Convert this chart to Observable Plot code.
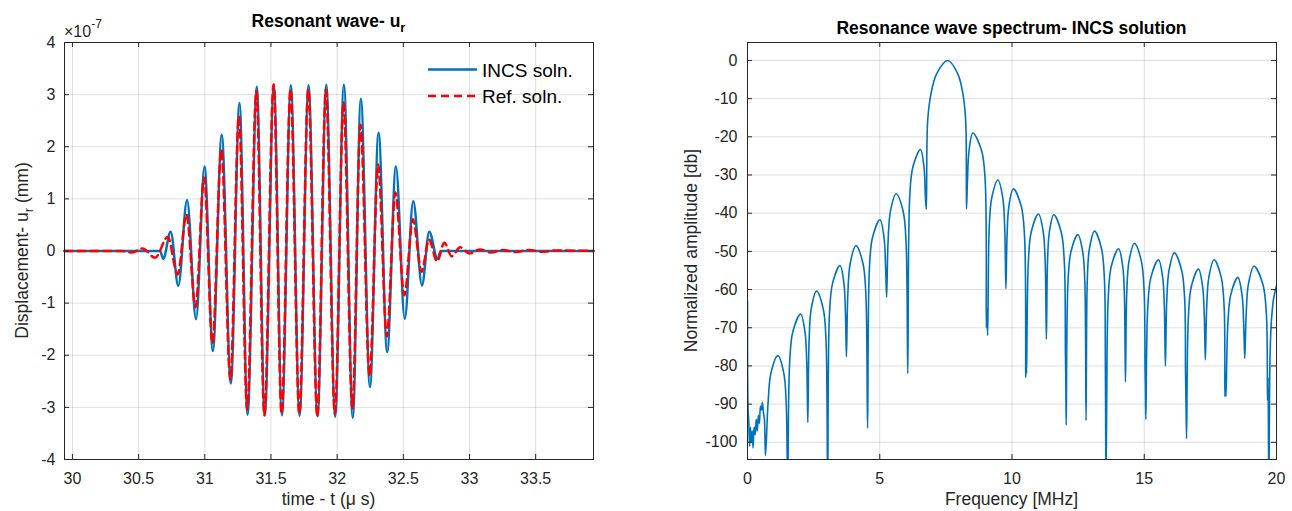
<!DOCTYPE html>
<html>
<head>
<meta charset="utf-8">
<script src="https://cdn.jsdelivr.net/npm/d3@7"></script>
<script src="https://cdn.jsdelivr.net/npm/@observablehq/plot@0.6"></script>
<style>
  html, body { margin: 0; padding: 0; background: #fff; }
  #wrap { position: relative; width: 1292px; height: 511px; overflow: hidden; font-family: "Liberation Sans", Arial, sans-serif; }
  #wrap > svg { position: absolute; top: 0; }
</style>
</head>
<body>
<div id="wrap"></div>
<script>
// ---------- Left panel: resonant wave u_r (units of 1e-7 mm) ----------
const incsTime = [29.94, 30.662, 30.686, 30.742, 30.800, 30.866, 30.934, 30.998, 31.061, 31.128, 31.197, 31.262, 31.323, 31.393, 31.453, 31.522, 31.583, 31.650, 31.716, 31.784, 31.852, 31.918, 31.985, 32.051, 32.118, 32.179, 32.248, 32.313, 32.378, 32.444, 32.511, 32.575, 32.641, 32.696, 32.758, 32.783, 33.937];
const incsDisp = [0, 0, -0.15, 0.37, -0.67, 0.98, -1.31, 1.62, -1.92, 2.23, -2.54, 2.84, -3.14, 3.15, -3.15, 3.18, -3.15, 3.18, -3.16, 3.18, -3.17, 3.19, -3.18, 3.19, -3.20, 2.92, -2.61, 2.27, -1.94, 1.62, -1.30, 0.96, -0.66, 0.37, -0.15, 0, 0];

const refTime = [29.94, 30.38, 30.45, 30.53, 30.625, 30.72, 30.795, 30.862, 30.93, 30.995, 31.058, 31.125, 31.193, 31.258, 31.32, 31.39, 31.45, 31.52, 31.58, 31.648, 31.714, 31.782, 31.85, 31.915, 31.983, 32.048, 32.115, 32.176, 32.245, 32.31, 32.375, 32.44, 32.508, 32.572, 32.638, 32.694, 32.755, 32.81, 32.865, 32.93, 33.0, 33.08, 33.16, 33.25, 33.35, 33.45, 33.55, 33.65, 33.937];
const refDisp = [0, 0, -0.03, 0.05, -0.13, 0.27, -0.45, 0.70, -1.08, 1.41, -1.77, 1.95, -2.47, 2.59, -3.04, 3.07, -3.15, 3.20, -3.12, 3.10, -3.12, 3.10, -3.18, 3.10, -3.12, 2.85, -3.02, 2.42, -2.40, 1.66, -1.64, 1.12, -0.85, 0.61, -0.40, 0.22, -0.20, 0.16, -0.10, 0.07, -0.05, 0.03, -0.03, 0.02, -0.02, 0.02, -0.015, 0.01, 0];

const timeTicks = [30, 30.5, 31, 31.5, 32, 32.5, 33, 33.5];
const dispTicks = [-4, -3, -2, -1, 0, 1, 2, 3, 4];

// ---------- Right panel: spectrum [frequency MHz, normalized dB] ----------
const spectrum = [
  [0,-63],[0.02,-91],[0.05,-95],[0.08,-101],[0.11,-96],[0.14,-100],[0.18,-97],[0.21,-101.5],[0.25,-96],[0.29,-98],[0.33,-94],[0.37,-97],[0.41,-93],[0.45,-95],[0.49,-90.5],[0.53,-91.5],[0.56,-89.5],[0.6,-92],[0.64,-94],[0.68,-103.5],
  [0.776,-89.9],[0.886,-81.9],[1.15,-77.3],[1.372,-81.9],[1.464,-89.9],[1.52,-112],
  [1.594,-79],[1.716,-71],[2.01,-66.4],[2.172,-71],[2.24,-79],[2.28,-94.8],
  [2.33,-73],[2.41,-65],[2.61,-60.4],[2.862,-65],[2.967,-73],[3.03,-112],
  [3.10,-66.3],[3.218,-58.3],[3.50,-53.7],[3.644,-58.3],[3.704,-66.3],[3.74,-77.6],
  [3.794,-61.1],[3.884,-53.1],[4.10,-48.5],[4.364,-53.1],[4.474,-61.1],[4.54,-96.3],
  [4.61,-54.3],[4.728,-46.3],[5.01,-41.7],[5.16,-46.3],[5.222,-54.3],[5.26,-62],
  [5.314,-47.5],[5.404,-39.5],[5.62,-34.9],[5.884,-39.5],[5.994,-47.5],[6.06,-82],
  [6.132,-35.9],[6.252,-27.9],[6.54,-23.3],[6.672,-27.9],[6.727,-35.9],[6.76,-39],
  [6.81,-16],[6.93,-9],[7.15,-3.5],[7.57,0],[7.95,-3.5],[8.15,-9],[8.25,-16],[8.28,-38.9],
  [8.316,-31.6],[8.376,-23.6],[8.52,-19],[8.85,-23.6],[8.987,-31.6],[9.03,-70],[9.05,-65],[9.08,-72],
  [9.139,-43.9],[9.236,-35.9],[9.47,-31.3],[9.65,-35.9],[9.725,-43.9],[9.77,-59.8],
  [9.812,-46.2],[9.882,-38.2],[10.05,-33.6],[10.35,-38.2],[10.475,-46.2],[10.52,-83],[10.535,-74],[10.55,-82],
  [10.618,-52.8],[10.73,-44.8],[11.0,-40.2],[11.18,-44.8],[11.255,-52.8],[11.3,-73],
  [11.342,-53],[11.412,-45],[11.58,-40.4],[11.862,-45],[11.98,-53],[12.02,-77],[12.035,-84],[12.05,-95.5],
  [12.116,-58.2],[12.226,-50.2],[12.49,-45.6],[12.676,-50.2],[12.754,-58.2],[12.8,-94.3],
  [12.848,-57.3],[12.928,-49.3],[13.12,-44.7],[13.384,-49.3],[13.494,-57.3],[13.53,-80],[13.555,-112],[13.58,-90],
  [13.64,-61.9],[13.754,-53.9],[14.03,-49.3],[14.186,-53.9],[14.251,-61.9],[14.29,-84.2],
  [14.341,-60.5],[14.426,-52.5],[14.63,-47.9],[14.888,-52.5],[14.996,-60.5],[15.03,-80],[15.045,-86],[15.06,-94],
  [15.132,-64.8],[15.252,-56.8],[15.54,-52.2],[15.696,-56.8],[15.761,-64.8],[15.8,-80],
  [15.851,-63],[15.936,-55],[16.14,-50.4],[16.416,-55],[16.531,-63],[16.56,-82],[16.58,-90],[16.6,-99],
  [16.668,-67.2],[16.78,-59.2],[17.05,-54.6],[17.206,-59.2],[17.271,-67.2],[17.31,-78.4],
  [17.36,-64.8],[17.442,-56.8],[17.64,-52.2],[17.91,-56.8],[18.022,-64.8],[18.05,-88],[18.07,-82],[18.09,-88],
  [18.158,-69.4],[18.27,-61.4],[18.54,-56.8],[18.696,-61.4],[18.761,-69.4],[18.8,-78],
  [18.853,-66.5],[18.94,-58.5],[19.15,-53.9],[19.48,-58.5],[19.618,-66.5],[19.66,-89],[19.68,-83],[19.71,-112],
  [19.76,-76],[19.82,-67],[19.9,-62],[20,-59]
];
const freqTicks = [0, 5, 10, 15, 20];
const dbTicks = [0, -10, -20, -30, -40, -50, -60, -70, -80, -90, -100];

// ---------- text ----------
const leftTitle = "Resonant wave- u";
const rightTitle = "Resonance wave spectrum- INCS solution";
const leftXLabel = "time - t (\u03BC s)";
const rightXLabel = "Frequency [MHz]";
const leftYLabel = "Displacement- u";
const rightYLabel = "Normalized amplitude [db]";
const seriesNames = ["INCS soln.", "Ref. soln."];

const FONT = '"Liberation Sans", Arial, sans-serif';
const AX = "#262626";
const BLUE = "#0072BD";
const RED = "#FF0000";

const incs = incsTime.map((t, i) => ({t, u: incsDisp[i]}));
const ref = refTime.map((t, i) => ({t, u: refDisp[i]}));
const spec = spectrum.map(([f, db]) => ({f, db}));

const H = 511, MT = 42, MB = 52;
const PH = H - MT - MB; // 417
const TL = 5; // inner tick length

// Left plot
const W1 = 640, ML1 = 64, MR1 = 47, PW1 = W1 - ML1 - MR1;
const left = Plot.plot({
  width: W1, height: H,
  marginLeft: ML1, marginRight: MR1, marginTop: MT, marginBottom: MB,
  style: {background: "transparent", fontFamily: FONT, color: AX, overflow: "visible"},
  x: {domain: [29.94, 33.937], label: null},
  y: {domain: [-4, 4], label: null},
  marks: [
    Plot.gridX(timeTicks, {stroke: AX, strokeOpacity: 0.15}),
    Plot.gridY(dispTicks, {stroke: AX, strokeOpacity: 0.15}),
    Plot.line(incs, {x: "t", y: "u", curve: "monotone-x", stroke: BLUE, strokeWidth: 2.5}),
    Plot.line(ref, {x: "t", y: "u", curve: "monotone-x", stroke: RED, strokeWidth: 2.5, strokeDasharray: "8,5"}),
    Plot.ruleX(timeTicks, {insetTop: PH - TL, stroke: AX}),
    Plot.ruleX(timeTicks, {insetBottom: PH - TL, stroke: AX}),
    Plot.ruleY(dispTicks, {insetRight: PW1 - TL, stroke: AX}),
    Plot.ruleY(dispTicks, {insetLeft: PW1 - TL, stroke: AX}),
    Plot.frame({stroke: AX}),
    Plot.axisX(timeTicks, {tickSize: 0, tickPadding: 13, fontSize: 16, tickFormat: d => String(d), label: null, fill: "#262626"}),
    Plot.axisY(dispTicks, {tickSize: 0, tickPadding: 9, fontSize: 16, tickFormat: d => String(d), label: null, fill: "#262626"})
  ]
});
left.style.left = "0px";

// Right plot
const W2 = 652, ML2 = 107, MR2 = 16, PW2 = W2 - ML2 - MR2;
const right = Plot.plot({
  width: W2, height: H,
  marginLeft: ML2, marginRight: MR2, marginTop: MT, marginBottom: MB,
  style: {background: "transparent", fontFamily: FONT, color: AX, overflow: "visible"},
  x: {domain: [0, 20], label: null},
  y: {domain: [-104.5, 4.7], label: null},
  marks: [
    Plot.gridX(freqTicks, {stroke: AX, strokeOpacity: 0.15}),
    Plot.gridY(dbTicks, {stroke: AX, strokeOpacity: 0.15}),
    Plot.line(spec, {x: "f", y: "db", curve: "catmull-rom", stroke: BLUE, strokeWidth: 1.6, clip: true}),
    Plot.ruleX(freqTicks, {insetTop: PH - TL, stroke: AX}),
    Plot.ruleX(freqTicks, {insetBottom: PH - TL, stroke: AX}),
    Plot.ruleY(dbTicks, {insetRight: PW2 - TL, stroke: AX}),
    Plot.ruleY(dbTicks, {insetLeft: PW2 - TL, stroke: AX}),
    Plot.frame({stroke: AX}),
    Plot.axisX(freqTicks, {tickSize: 0, tickPadding: 13, fontSize: 16, tickFormat: d => String(d), label: null, fill: "#262626"}),
    Plot.axisY(dbTicks, {tickSize: 0, tickPadding: 10, fontSize: 16, tickFormat: d => String(d), label: null, fill: "#262626"})
  ]
});
right.style.left = "640px";

const wrap = document.getElementById("wrap");
wrap.appendChild(left);
wrap.appendChild(right);

// Overlay for titles, labels, exponent and legend
const NS = "http://www.w3.org/2000/svg";
const ov = document.createElementNS(NS, "svg");
ov.setAttribute("width", 1292);
ov.setAttribute("height", 511);
ov.setAttribute("style", "position:absolute;left:0;top:0;pointer-events:none;font-family:" + FONT.replace(/"/g, "'"));
wrap.appendChild(ov);

function txt(x, y, parts, opts = {}) {
  const t = document.createElementNS(NS, "text");
  t.setAttribute("x", x);
  t.setAttribute("y", y);
  t.setAttribute("text-anchor", opts.anchor || "middle");
  t.setAttribute("font-size", opts.size || 17.5);
  if (opts.weight) t.setAttribute("font-weight", opts.weight);
  t.setAttribute("fill", opts.fill || "#000");
  if (opts.rotate) t.setAttribute("transform", `rotate(-90 ${x} ${y})`);
  for (const p of parts) {
    const s = document.createElementNS(NS, "tspan");
    s.textContent = p.t;
    if (p.dy) s.setAttribute("dy", p.dy);
    if (p.size) s.setAttribute("font-size", p.size);
    t.appendChild(s);
  }
  ov.appendChild(t);
  return t;
}

// Titles
txt(328.5, 27, [{t: leftTitle}, {t: "r", dy: 5, size: 13}], {weight: "bold"});
txt(1011.5, 34, [{t: rightTitle}], {weight: "bold"});
// Axis labels
txt(328.5, 505, [{t: leftXLabel}], {fill: "#262626"});
txt(1011.5, 505, [{t: rightXLabel}], {fill: "#262626"});
txt(28, 250.5, [{t: leftYLabel}, {t: "r", dy: 5, size: 13}, {t: " (mm)", dy: -5}], {rotate: true, fill: "#262626"});
txt(697, 250.5, [{t: rightYLabel}], {rotate: true, fill: "#262626"});
// Exponent
txt(64, 37, [{t: "\u00D710"}, {t: "-7", dy: -9, size: 12}], {anchor: "start", size: 16, fill: "#262626"});

// Legend
function seg(x1, y, x2, color, dash) {
  const l = document.createElementNS(NS, "line");
  l.setAttribute("x1", x1); l.setAttribute("x2", x2);
  l.setAttribute("y1", y); l.setAttribute("y2", y);
  l.setAttribute("stroke", color);
  l.setAttribute("stroke-width", 2.5);
  if (dash) l.setAttribute("stroke-dasharray", dash);
  ov.appendChild(l);
}
seg(428, 69.5, 477, BLUE);
seg(428, 96, 477, RED, "8,5");
txt(482, 77, [{t: seriesNames[0]}], {anchor: "start", size: 19});
txt(482, 103, [{t: seriesNames[1]}], {anchor: "start", size: 19});
</script>
</body>
</html>
